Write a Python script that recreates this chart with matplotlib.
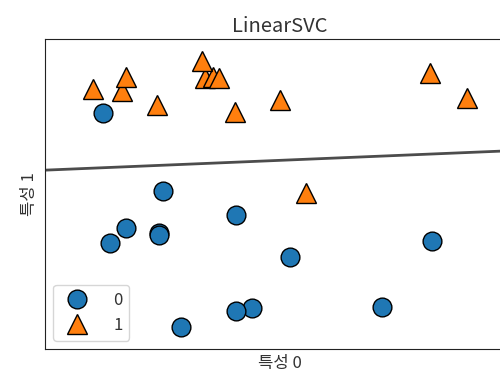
import matplotlib
matplotlib.use("Agg")
import matplotlib.pyplot as plt
import numpy as np

plt.rcParams["font.family"] = ["Noto Sans CJK KR", "DejaVu Sans"]

# forge dataset: feature 0, feature 1, class
feature0 = [9.96346605, 11.0329545, 11.54155807, 8.69289001, 8.1062269, 8.30988863,
            11.93027136, 9.67284681, 8.34810316, 8.67494727, 9.17748385, 10.24028948,
            8.68937095, 8.92229526, 9.49123469, 9.25694192, 7.99815287, 8.18378052,
            8.7337095, 9.32298256, 10.06393839, 9.50048972, 8.34468785, 9.50169345,
            9.15072323, 11.563957]
feature1 = [4.59676542, -0.16816717, 5.21116083, 1.54322016, 4.28695977, 4.80623966,
            4.64866327, -0.20283165, 5.13415623, 4.47573059, 5.09283177, 2.45544401,
            1.48709629, -0.63993225, 4.33224792, 5.13284858, 4.8525051, 1.29564214,
            2.49162431, 5.09840649, 0.99078055, -0.26430318, 1.63824349, 1.93824624,
            5.49832246, 1.3389402]
labels = [1, 0, 1, 0, 0, 1, 1, 0, 1, 1, 1, 1, 0, 0, 1, 1, 1, 0, 0, 1, 0, 0, 0, 0, 1, 0]

# decision boundary (feature1 = slope * feature0 + intercept)
boundary_slope = 0.0916
boundary_intercept = 2.295

x0 = np.array(feature0)
x1 = np.array(feature1)
y = np.array(labels)

fig = plt.figure(figsize=(5.0, 3.73), dpi=100)
ax = fig.add_axes([0.09, 0.064, 0.94, 0.831])

eps = 0.5
xmin, xmax = x0.min() - eps, x0.max() + eps
ymin, ymax = x1.min() - eps, x1.max() + eps

xs = np.array([xmin, xmax])
ax.plot(xs, boundary_slope * xs + boundary_intercept, color="black", alpha=0.7, linewidth=2)

markers = ["o", "^"]
colors = ["#1f77b4", "#ff7f0e"]
for cls in [0, 1]:
    mask = y == cls
    ax.plot(x0[mask], x1[mask], linestyle="none", marker=markers[cls],
            markersize=13.5 if cls == 0 else 14.5,
            color=colors[cls], markeredgecolor="black", markeredgewidth=1, label=str(cls))

ax.set_xlim(xmin, xmax)
ax.set_ylim(ymin, ymax)
ax.set_xticks([])
ax.set_yticks([])
for sp in ax.spines.values():
    sp.set_color("#222222")

ax.set_title("LinearSVC", fontsize=14.5, color="#333333", pad=5)
ax.set_xlabel("특성 0", fontsize=12, color="#333333", labelpad=4)
ax.set_ylabel("특성 1", fontsize=12, color="#333333", labelpad=5)
ax.legend(loc="lower left", fontsize=12, handletextpad=1.2, borderpad=0.4,
          labelcolor="#333333")

fig.savefig("out.png", dpi=100)
